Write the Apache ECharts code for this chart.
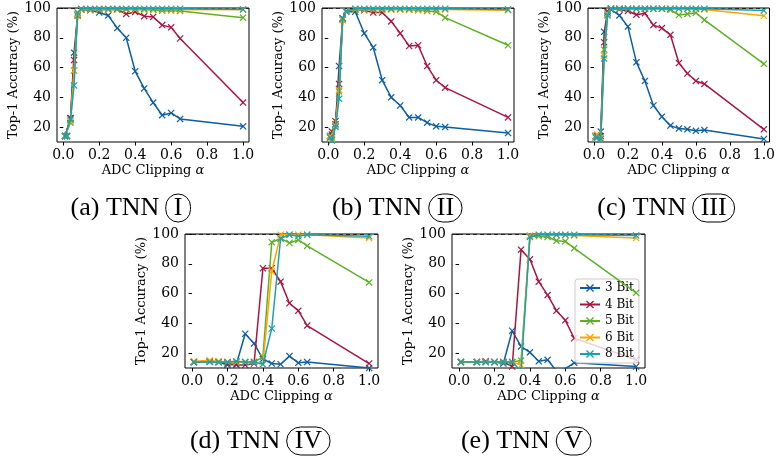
<!DOCTYPE html>
<html><head><meta charset="utf-8">
<script src="https://cdn.jsdelivr.net/npm/echarts@6/dist/echarts.min.js"></script>
<style>html,body{margin:0;padding:0;background:#fff}#c{width:778px;height:459px}</style>
</head><body><div id="c"></div>
<script>
// ---- data ----
const alphaABC = [0.01,0.02,0.04,0.06,0.08,0.1,0.15,0.2,0.25,0.3,0.35,0.4,0.45,0.5,0.55,0.6,0.65,1.0];
const alphaDE  = [0.01,0.1,0.15,0.2,0.25,0.3,0.35,0.4,0.45,0.5,0.55,0.6,0.65,1.0];
const seriesNames = ['3 Bit','4 Bit','5 Bit','6 Bit','8 Bit'];
const yTicks = [20,40,60,80,100];
const xTicks = [0,0.2,0.4,0.6,0.8,1.0];
const fullPrecisionAcc = 99.6;
const captionLetters = ['a','b','c','d','e'];
const captionNumerals = ['I','II','III','IV','V'];

// (a) TNN I
const A_3bit = [14,14,26,70,96,99,98.5,97,95,86.5,80,57.5,46,36.5,28,29.5,25.5,20.5];
const A_4bit = [14,14,26,65,95,99,99,99,99,99,96,97.3,94.5,94,88.5,87,79.5,36.5];
const A_5bit = [14,14,23,58,95,99,99,99,99,99,99,99,98.8,98.7,98.2,98.3,98,93.5];
const A_6bit = [14,14,24,58,96,99,99,99,99,99,99,99,99,99,99,99,98.8,99];
const A_8bit = [14,14,25,48,97,99.5,99.5,99.5,99.5,99.5,99.5,99.5,99.5,99.5,99.5,99.5,99.5,99];
// (b) TNN II
const B_3bit = [14,15,22,61,93,97.5,97.5,83,73.5,51.5,40,34.5,26.5,26.5,23,20.5,20,16];
const B_4bit = [14,17,24,49,93,98,99,98.5,97,97,91,83,74.5,75,61,51.5,46.5,26.5];
const B_5bit = [13,13,21,44,92,98,99,99,99,99,99,99,98.8,98.5,98,97.5,93.5,75];
const B_6bit = [14,12,21,45,92,98,99,99,99,99,99,99,99,99,99,99,99,98.5];
const B_8bit = [13,11,20,39,93,98,99.5,99.5,99.5,99.5,99.5,99.5,99.5,99.5,99.5,99.5,99.5,99];
// (c) TNN III
const C_3bit = [14,14,17,84,97,99,95,87.5,63.5,51,34.5,27,21,19,18.5,17.5,18,12];
const C_4bit = [14,14,14,77,98,99.5,99,98,95.5,96.5,88.5,86.5,82,63,56,51,49,18.5];
const C_5bit = [14,13,12,72,96,99.5,99.5,99.5,99.5,99.5,99.5,99.5,98.7,95.3,96,96.8,92,62.5];
const C_6bit = [14,15,13,68,96,99.5,99.5,99.5,99.5,99.5,99.5,99.5,99.5,99.5,99.3,99.3,99,94.8];
const C_8bit = [13,13,12,66,95,99.5,99.5,99.5,99.5,99.5,99.5,99.5,99.5,99.5,99.5,99.5,99.5,98.3];
// (d) TNN IV
const D_3bit = [14,14.5,14,12,12.5,33,26.5,16,13,12.5,18,13.5,14,10];
const D_4bit = [14,14.5,14,13,12,12,13,77,77,68,53.5,48.5,38.5,13];
const D_5bit = [14,14.5,14,14,14,14,14,17.5,94.5,97,94,96,92,67.5];
const D_6bit = [14.5,15,14.5,14,14,14,14,12.5,75,99.5,99.5,99.5,99.5,97.3];
const D_8bit = [14,14,14,14,14.5,14,14,12.5,36.5,97,99.5,98.5,99.5,98.5];
// (e) TNN V
const E_3bit = [14,14,14,14,13,35,24.5,20.5,14.5,15.5,8,9.5,13.5,11];
const E_4bit = [14,14,14.5,14,14,11,89.5,83,68,59,48.5,42,30,15.5];
const E_5bit = [14,14,14,14,14,14,15,98.5,98.5,98,95.5,95,90.5,60.5];
const E_6bit = [14,14,14,14,14,14,12,99,99.3,99.3,99.3,99.3,99,97.3];
const E_8bit = [14,14,14,14,14,14,8,98,99.5,99.5,99.5,99.5,99.5,99];

// ---- styling / layout ----
const COLORS = ['#0C5DA5','#A8163F','#5DB024','#FFA500','#1AA1AE'];
const SERIF = 'DejaVu Serif';
const panels = [
  {xs: alphaABC, ys: [A_3bit,A_4bit,A_5bit,A_6bit,A_8bit], grid:{left:57,top:8,width:192,height:134}, xmin:-0.035, xmax:1.033, cap:[130.5,208]},
  {xs: alphaABC, ys: [B_3bit,B_4bit,B_5bit,B_6bit,B_8bit], grid:{left:322,top:8,width:192,height:134}, xmin:-0.035, xmax:1.033, cap:[397,208]},
  {xs: alphaABC, ys: [C_3bit,C_4bit,C_5bit,C_6bit,C_8bit], grid:{left:588,top:8,width:192,height:134}, xmin:-0.035, xmax:1.033, cap:[666,208]},
  {xs: alphaDE, ys: [D_3bit,D_4bit,D_5bit,D_6bit,D_8bit], grid:{left:185,top:234,width:193,height:134}, xmin:-0.04, xmax:1.05, cap:[260,441]},
  {xs: alphaDE, ys: [E_3bit,E_4bit,E_5bit,E_6bit,E_8bit], grid:{left:452,top:234,width:193,height:134}, xmin:-0.04, xmax:1.05, cap:[526,441]}
];
const XSYM = 'path://M1.2,0 L5,3.8 L8.8,0 L10,1.2 L6.2,5 L10,8.8 L8.8,10 L5,6.2 L1.2,10 L0,8.8 L3.8,5 L0,1.2 Z';

const grids = [], xAxes = [], yAxes = [], series = [], graphics = [];
panels.forEach((p, pi) => {
  grids.push(Object.assign({show:true, borderColor:'#000', borderWidth:1, backgroundColor:'transparent'}, p.grid));
  xAxes.push({
    type:'value', gridIndex:pi, min:p.xmin, max:p.xmax,
    axisLine:{show:false}, splitLine:{show:false},
    axisTick:{show:true, inside:false, length:3.5, customValues:xTicks, lineStyle:{color:'#000', width:1}},
    axisLabel:{customValues:xTicks, margin:6, formatter:v=>v.toFixed(1), fontFamily:SERIF, fontSize:14, color:'#000'},
    name:'ADC Clipping {i|α}', nameLocation:'middle', nameGap:22,
    nameTextStyle:{fontFamily:SERIF, fontSize:13, color:'#000', verticalAlign:'top', rich:{i:{fontFamily:SERIF, fontSize:13, fontStyle:'italic', color:'#000'}}}
  });
  yAxes.push({
    type:'value', gridIndex:pi, min:10, max:100,
    axisLine:{show:false}, splitLine:{show:false},
    axisTick:{show:true, inside:false, length:3.5, customValues:yTicks, lineStyle:{color:'#000', width:1}},
    axisLabel:{customValues:yTicks, margin:6, fontFamily:SERIF, fontSize:14, color:'#000'},
    name:'Top-1 Accuracy (%)', nameLocation:'middle', nameGap:34,
    nameTextStyle:{fontFamily:SERIF, fontSize:13, color:'#000'}
  });
  p.ys.forEach((vals, si) => {
    const s = {
      name: seriesNames[si], type:'line', xAxisIndex:pi, yAxisIndex:pi,
      data: p.xs.map((a, i) => [a, vals[i]]),
      symbol: XSYM, symbolSize: 7, showSymbol:true, clip:true,
      lineStyle:{color:COLORS[si], width:1.5},
      itemStyle:{color:COLORS[si]},
      emphasis:{disabled:true}, z: 2 + si
    };
    if (si === 0) {
      s.markLine = {silent:true, symbol:'none', label:{show:false},
        lineStyle:{color:'#222', type:[4,3], width:1}, data:[{yAxis: fullPrecisionAcc}]};
    }
    series.push(s);
  });
  graphics.push({
    type:'text', x:p.cap[0], y:p.cap[1],
    style:{
      text:'(' + captionLetters[pi] + ') TNN {c|' + captionNumerals[pi] + '}',
      fontFamily:'Liberation Serif', fontSize:26, fill:'#000', align:'center', verticalAlign:'middle',
      rich:{c:{fontFamily:'Liberation Serif', fontSize:26, lineHeight:25, borderColor:'#000', borderWidth:1, borderRadius:14, padding:[1,8,1,8]}}
    }
  });
});

const chart = echarts.init(document.getElementById('c'), null, {renderer:'canvas'});
chart.setOption({
  animation:false,
  backgroundColor:'#fff',
  grid: grids, xAxis: xAxes, yAxis: yAxes, series: series,
  legend:{
    data: seriesNames, orient:'vertical', left:575, top:279,
    itemWidth:20, itemHeight:10, itemGap:4.5, padding:[3,5,3,4],
    backgroundColor:'rgba(255,255,255,0.8)', borderColor:'#ccc', borderWidth:1, borderRadius:3,
    textStyle:{fontFamily:SERIF, fontSize:12, color:'#000'}
  },
  graphic: graphics
});
</script></body></html>
